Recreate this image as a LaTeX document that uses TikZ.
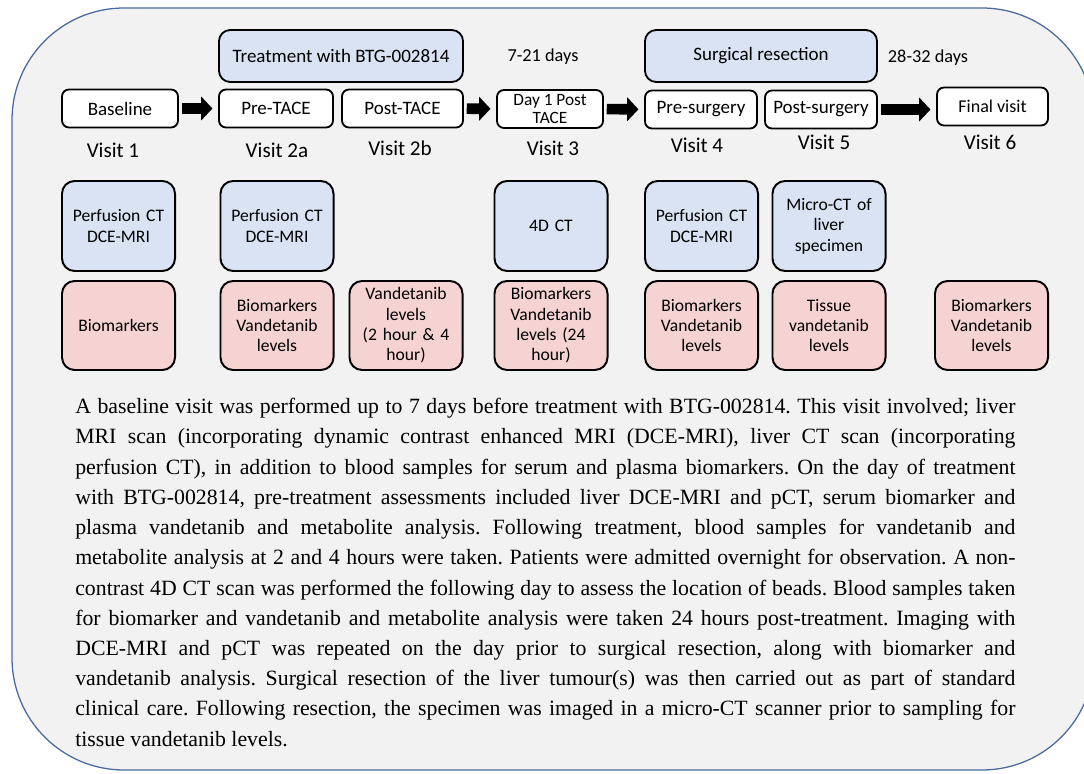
\documentclass[tikz,border=0pt]{standalone}
\usepackage{fontspec}
\setmainfont{Liberation Serif}
\newfontfamily\calfont{Carlito}
\usetikzlibrary{arrows.meta, positioning}
\tikzset{
    stage/.style={draw, line width=1.3pt, rounded corners=5pt, fill=white,
        minimum height=0.95cm, inner sep=1pt, font=\calfont\fontsize{13.5}{15}\selectfont},
    phase/.style={stage, fill=b1, rounded corners=8pt, minimum height=1.3cm},
    scan/.style={draw, line width=1.4pt, rounded corners=9pt, fill=b1,
        minimum width=2.825cm, minimum height=2.25cm, text width=2.75cm, align=center,
        inner sep=1pt, font=\calfont\fontsize{12.5}{14.5}\selectfont},
    blood/.style={scan, fill=r1, minimum height=2.225cm},
    visitlbl/.style={font=\calfont\fontsize{15}{17}\selectfont},
    gap/.style={font=\calfont\fontsize{13}{15}\selectfont},
    push/.style={line width=7.5pt, -{Triangle[length=8pt, width=17pt, line width=0pt]},
        shorten <=2pt, shorten >=4pt}
}
\definecolor{b1}{HTML}{DAE3F3}
\definecolor{r1}{HTML}{F6D3D3}
\definecolor{w}{HTML}{F2F2F2}
\definecolor{e}{HTML}{4A6A9E}

\begin{document}
\begin{tikzpicture}[x=0.025cm, y=-0.025cm]
    \useasboundingbox (0,0) rectangle (1084,774);
    \draw[e, line width=0.9pt, fill=w, rounded corners=2.8cm] (12,8) rectangle (1094,770);
    % treatment phases
    \node[phase, minimum width=6.1cm] (treat) at (341,56) {Treatment with BTG-002814};
    \node[gap] (d1) at (543,57) {7-21 days};
    \node[phase, minimum width=5.8cm] (surg) at (761,56) {Surgical resection};
    \node[gap] (d2) at (928,58) {28-32 days};
    % visits
    \node[stage, minimum width=2.9cm] (base) at (120,108.5) {Baseline};
    \node[stage, minimum width=2.85cm] (pre) at (276,108.5) {Pre-TACE};
    \node[stage, minimum width=3.025cm] (post) at (402.5,108.5) {Post-TACE};
    \node[stage, minimum width=2.65cm, align=center, font=\calfont\fontsize{12.3}{13}\selectfont] (day) at (550,109) {Day 1 Post\\TACE};
    \node[stage, minimum width=2.8cm] (presurg) at (701,109.5) {Pre-surgery};
    \node[stage, minimum width=2.8cm] (postsurg) at (821,109.5) {Post-surgery};
    \node[stage, minimum width=2.775cm, font=\calfont\fontsize{12.8}{14}\selectfont] (final) at (992.5,106.5) {Final visit};
    \draw[push] (base) -- (pre);
    \draw[push] (post) -- (day);
    \draw[push] (day) -- (presurg);
    \draw[push] (postsurg.east) -- (postsurg.east -| final.west);
    \node[visitlbl] (v1) at (113,150) {Visit 1};
    \node[visitlbl] (v2a) at (277,150) {Visit 2a};
    \node[visitlbl] (v2b) at (400,148) {Visit 2b};
    \node[visitlbl] (v3) at (553,148) {Visit 3};
    \node[visitlbl] (v4) at (697,145) {Visit 4};
    \node[visitlbl] (v5) at (824,142) {Visit 5};
    \node[visitlbl] (v6) at (990,142) {Visit 6};
    % imaging
    \node[scan] (img1) at (118.5,226) {Perfusion CT\\DCE-MRI};
    \node[scan] (img2) at (277,226) {Perfusion CT\\DCE-MRI};
    \node[scan] (img3) at (551,226) {4D CT};
    \node[scan] (img4) at (701.5,226) {Perfusion CT\\DCE-MRI};
    \node[scan] (img5) at (829,226) {Micro-CT of\\liver\\specimen};
    % samples
    \node[blood] (bl1) at (118.5,325.5) {Biomarkers};
    \node[blood] (bl2) at (277,325.5) {Biomarkers\\Vandetanib\\levels};
    \node[blood] (bl3) at (406,325.5) {Vandetanib\\levels\\(2 hour \& 4\\hour)};
    \node[blood] (bl4) at (551,325.5) {Biomarkers\\Vandetanib\\levels (24\\hour)};
    \node[blood] (bl5) at (701.5,325.5) {Biomarkers\\Vandetanib\\levels};
    \node[blood] (bl6) at (829,325.5) {Tissue\\vandetanib\\levels};
    \node[blood] (bl7) at (991.5,325.5) {Biomarkers\\Vandetanib\\levels};
    % description
    \node[anchor=north west, text width=23.5cm, align=justify, inner sep=0pt,
        font=\fontsize{15.5}{21.5}\selectfont\frenchspacing] (story) at (75,398) {%
        A baseline visit was performed up to 7 days before treatment with BTG-002814. This visit involved; liver\linebreak
        MRI scan (incorporating dynamic contrast enhanced MRI (DCE-MRI), liver CT scan (incorporating\linebreak
        perfusion CT), in addition to blood samples for serum and plasma biomarkers. On the day of treatment\linebreak
        with BTG-002814, pre-treatment assessments included liver DCE-MRI and pCT, serum biomarker and\linebreak
        plasma vandetanib and metabolite analysis. Following treatment, blood samples for vandetanib and\linebreak
        metabolite analysis at 2 and 4 hours were taken. Patients were admitted overnight for observation. A non-\linebreak
        contrast 4D CT scan was performed the following day to assess the location of beads. Blood samples taken\linebreak
        for biomarker and vandetanib and metabolite analysis were taken 24 hours post-treatment. Imaging with\linebreak
        DCE-MRI and pCT was repeated on the day prior to surgical resection, along with biomarker and\linebreak
        vandetanib analysis. Surgical resection of the liver tumour(s) was then carried out as part of standard\linebreak
        clinical care. Following resection, the specimen was imaged in a micro-CT scanner prior to sampling for\linebreak
        tissue vandetanib levels.};
\end{tikzpicture}
\end{document}
